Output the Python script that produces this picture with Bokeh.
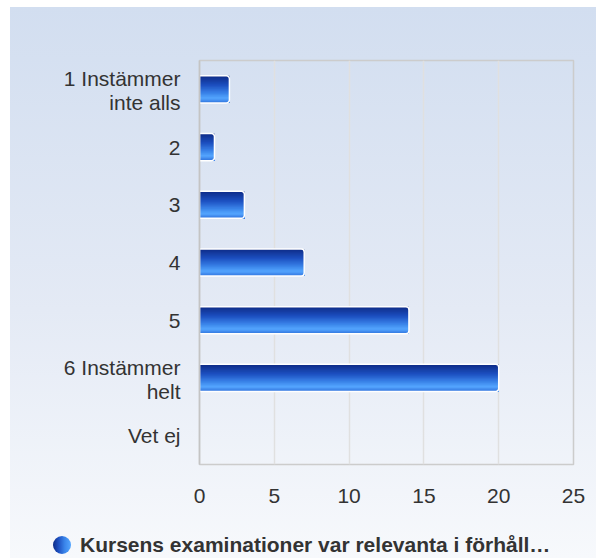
from bokeh.plotting import figure
from bokeh.layouts import column
from bokeh.models import Range1d, FixedTicker, ColumnDataSource, Div
from bokeh.embed import file_html
from bokeh.resources import INLINE

# ---- data ----
categories = ["1 Instämmer\ninte alls", "2", "3", "4", "5", "6 Instämmer\nhelt", "Vet ej"]
counts = [2, 1, 3, 7, 14, 20, 0]
x_ticks = [0, 5, 10, 15, 20, 25]
series_name = "Kursens examinationer var relevanta i förhåll…"

FONT = "Liberation Sans"
TEXT = "#333333"

n = len(categories)
U = 1000  # y units per category band (categories laid out top to bottom)
pos = [(n - i - 0.5) * U for i in range(n)]

bar_pos = [y for y, v in zip(pos, counts) if v > 0]
bar_vals = [v for v in counts if v > 0]
src = ColumnDataSource(dict(y=bar_pos, count=bar_vals))

p = figure(
    y_range=Range1d(0, n * U),
    x_range=Range1d(0, x_ticks[-1]),
    width=596, height=516,
    output_backend="svg", toolbar_location=None,
    min_border_left=199, min_border_right=23,
    min_border_top=60, min_border_bottom=52,
)
p.border_fill_color = None
p.background_fill_color = None
p.outline_line_color = "#cccccc"
p.outline_line_width = 1.5

# gradient bars made from stacked horizontal strips (each reaches the bar bottom)
stops = [(0.0, (13, 43, 134)), (0.35, (29, 79, 192)), (0.65, (58, 133, 234)),
         (0.83, (85, 166, 255)), (1.0, (46, 112, 220))]

def interp(f):
    for (f0, c0), (f1, c1) in zip(stops[:-1], stops[1:]):
        if f0 <= f <= f1:
            t = (f - f0) / (f1 - f0)
            return "#%02x%02x%02x" % tuple(int(round(a + (b - a) * t)) for a, b in zip(c0, c1))
    return "#%02x%02x%02x" % stops[-1][1]

H = 0.47 * U
N = 24
for i in range(N):
    top = H / 2 - i * H / N
    bottom = -H / 2
    s = ColumnDataSource(dict(y=[y + (top + bottom) / 2 for y in bar_pos], count=bar_vals))
    p.hbar(y="y", left=0, right="count", height=top - bottom, source=s,
           fill_color=interp((i + 0.5) / N), line_color=None)

p.hbar(y="y", left=0, right="count", height=H, source=src,
       fill_color=None, line_color="white", line_width=1.5, border_radius=(0, 3, 3, 0))

# x axis
p.xaxis.ticker = FixedTicker(ticks=x_ticks)
p.xaxis.axis_line_color = None
p.xaxis.major_tick_line_color = None
p.xaxis.minor_tick_line_color = None
p.xaxis.major_tick_out = 0
p.xaxis.major_tick_in = 0
p.xaxis.major_label_standoff = 24
p.xaxis.major_label_text_font = FONT
p.xaxis.major_label_text_font_size = "21px"
p.xaxis.major_label_text_color = TEXT

p.xgrid.grid_line_color = "#e0e0e0"
p.xgrid.grid_line_width = 1.5
p.ygrid.grid_line_color = None

# y axis: category labels, each line right-aligned on its own tick
px_per_cat = 404 / n
line_step = 24 / px_per_cat * U
ticks, overrides = [], {}
for y, cat in zip(pos, categories):
    lines = cat.split("\n")
    k = len(lines)
    for j, line in enumerate(lines):
        t = int(round(y + ((k - 1) / 2 - j) * line_step - 0.02 * U * (k - 1)))
        ticks.append(t)
        overrides[t] = line
yax = p.yaxis[0]
yax.ticker = FixedTicker(ticks=ticks)
yax.major_label_overrides = overrides
yax.axis_line_color = "#c4c4c4"
yax.axis_line_width = 1.5
yax.major_tick_line_color = None
yax.minor_tick_line_color = None
yax.major_tick_out = 0
yax.major_tick_in = 0
yax.major_label_standoff = 19
yax.major_label_text_font = FONT
yax.major_label_text_font_size = "21px"
yax.major_label_text_color = TEXT

# legend below the chart
legend_html = (
    '<div style="position:relative;width:596px;height:42px;">'
    '<span style="position:absolute;left:53px;top:20px;width:18px;height:18px;border-radius:50%;'
    'background:linear-gradient(to right,#0d2b86 0%,#1d4fc0 30%,#3a85ea 65%,#55a6ff 100%);"></span>'
    '<span style="position:absolute;left:80px;top:17px;white-space:nowrap;'
    'font-family:\'Liberation Sans\';font-size:21px;font-weight:bold;color:#333333;line-height:24px;">'
    + series_name + '</span></div>'
)
legend_div = Div(text=legend_html, width=596, height=42, margin=0)

layout = column(p, legend_div, spacing=0, styles={
    "background-color": "white",
    "background-image": "linear-gradient(to bottom, #d2def0 0%, #e4eaf5 55%, #f7f9fc 100%)",
    "background-repeat": "no-repeat",
    "background-position": "10px 7px",
    "background-size": "calc(100% - 10px) calc(100% - 7px)",
})

open("out.html", "w").write(file_html(layout, INLINE))
